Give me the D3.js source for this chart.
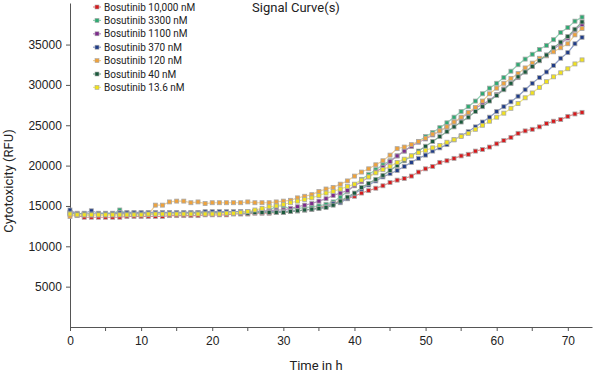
<!DOCTYPE html>
<html>
<head>
<meta charset="utf-8">
<script src="https://cdn.jsdelivr.net/npm/d3@7"></script>
<style>
  body { margin: 0; background: #fff; }
  svg { font-family: Roboto, "Liberation Sans", sans-serif; }
</style>
</head>
<body>
<svg id="chart" width="600" height="374"></svg>
<script>
// hours 0..72, values in RFU (thousands)
const hours = d3.range(0, 73)

const conc10000 = [14.0,13.8,13.6,13.6,13.6,13.6,13.6,13.6,13.7,13.7,13.7,13.7,13.7,13.7,13.8,13.8,13.8,13.8,13.8,13.9,13.9,13.9,13.9,14.0,14.0,14.0,14.1,14.1,14.1,14.2,14.2,14.3,14.4,14.5,14.6,14.8,15.0,15.3,15.6,15.9,16.2,16.6,16.9,17.2,17.5,17.9,18.2,18.4,18.7,19.2,19.6,19.9,20.4,20.6,20.9,21.2,21.4,21.8,22.0,22.3,22.7,23.1,23.5,24.0,24.3,24.5,24.8,25.2,25.5,25.7,26.1,26.4,26.6]
const conc3300 = [14.2,13.9,13.9,13.9,13.9,13.9,14.0,14.5,14.0,14.0,14.0,14.0,14.0,14.0,14.1,14.1,14.1,14.1,14.1,14.1,14.1,14.2,14.2,14.2,14.2,14.3,14.3,14.3,14.4,15.0,15.0,14.6,14.7,14.8,14.9,15.0,15.2,15.5,16.1,16.8,17.6,18.3,18.9,19.5,20.1,20.6,21.2,21.8,22.4,23.0,23.6,24.1,24.7,25.3,26.0,26.7,27.3,28.0,28.9,29.6,30.2,30.9,31.7,32.5,33.2,33.8,34.4,34.9,35.6,36.5,37.1,37.9,38.4]
const conc1100 = [14.2,14.1,14.0,14.0,14.0,14.0,14.0,14.1,14.1,14.1,14.1,14.1,14.1,14.1,14.1,14.1,14.1,14.1,14.2,14.2,14.2,14.2,14.2,14.2,14.3,14.3,14.3,14.4,14.4,14.5,14.5,14.7,14.9,15.1,15.3,15.6,15.9,16.3,16.6,16.9,17.5,18.0,18.6,19.2,19.8,20.5,21.2,21.8,22.4,22.9,23.3,23.8,24.3,24.8,25.4,25.9,26.5,27.1,27.6,28.1,28.8,29.5,30.2,30.9,31.6,32.3,33.0,33.7,34.4,35.1,35.8,36.8,37.5]
const conc370 = [14.5,14.0,14.1,14.4,14.1,14.1,14.1,14.2,14.2,14.2,14.2,14.2,14.2,14.2,14.2,14.2,14.2,14.2,14.2,14.3,14.3,14.3,14.3,14.3,14.3,14.3,14.3,14.3,14.3,14.3,14.3,14.4,14.4,14.5,14.6,14.7,14.9,15.3,15.4,15.9,16.5,17.1,17.6,18.1,18.6,19.0,19.4,19.9,20.4,20.9,21.3,21.8,22.2,22.6,23.2,23.7,24.2,24.8,25.4,26.0,26.7,27.3,27.9,28.6,29.4,30.2,30.9,31.6,32.4,33.3,34.0,35.1,35.9]
const conc120 = [13.7,13.9,13.9,13.9,13.9,13.9,13.9,13.9,13.9,13.9,13.9,13.9,15.1,15.1,15.5,15.6,15.6,15.4,15.5,15.3,15.4,15.4,15.4,15.4,15.4,15.5,15.4,15.4,15.4,15.5,15.6,15.7,16.0,16.2,16.4,16.8,17.1,17.3,17.7,18.1,18.7,19.2,19.6,20.1,20.6,21.3,22.1,22.3,22.6,23.0,23.4,23.9,24.3,24.8,25.4,26.0,26.6,27.2,28.0,28.9,29.6,30.2,30.8,31.4,32.1,32.7,33.3,33.6,34.1,34.6,35.1,36.2,37.0]
const conc40 = [14.1,14.0,14.0,14.0,14.0,14.0,14.0,14.0,14.0,14.0,14.0,14.0,14.0,14.0,14.0,14.0,14.0,14.1,14.1,14.1,14.1,14.1,14.1,14.1,14.1,14.1,14.2,14.2,14.2,14.2,14.2,14.3,14.4,14.5,14.6,14.7,14.8,15.1,15.6,16.1,16.6,17.3,17.8,18.3,18.8,19.4,20.0,20.6,21.2,21.8,22.4,23.0,23.6,24.2,24.8,25.4,26.0,26.7,27.3,28.0,28.7,29.4,30.2,31.0,31.6,32.3,33.0,33.7,34.6,35.3,36.0,36.9,37.8]
const conc13_6 = [14.0,13.9,13.9,13.9,13.9,13.9,13.9,13.9,13.9,13.9,13.9,14.0,14.0,14.0,14.0,14.0,14.0,14.0,14.0,14.0,14.0,14.0,14.1,14.1,14.2,14.3,14.5,14.7,14.9,15.0,15.2,15.4,15.6,15.8,16.0,16.3,16.6,16.8,17.1,17.4,17.7,18.2,18.6,19.1,19.5,19.9,20.4,20.8,21.2,21.6,21.9,22.2,22.5,22.9,23.2,23.6,24.0,24.5,25.0,25.5,26.0,26.5,27.1,27.7,28.4,29.0,29.7,30.4,31.0,31.5,32.0,32.6,33.1]

const seriesNames = ["Bosutinib 10,000 nM", "Bosutinib 3300 nM", "Bosutinib 1100 nM", "Bosutinib 370 nM", "Bosutinib 120 nM", "Bosutinib 40 nM", "Bosutinib 13.6 nM"]
const seriesValues = [conc10000, conc3300, conc1100, conc370, conc120, conc40, conc13_6]
const markerColors = ["#d7191c", "#2eaa72", "#7d2a8c", "#1f3c88", "#f0a23a", "#1a5a3c", "#f2e21b"]
const lineColors = ["#e88a8a", "#8fd4b4", "#b98bc4", "#8a9bc8", "#f5cf8f", "#7fae95", "#f2ea80"]

const yTicks = [5000, 10000, 15000, 20000, 25000, 30000, 35000]
const xTicks = [0, 10, 20, 30, 40, 50, 60, 70]
const xMinorTicks = [5, 15, 25, 35, 45, 55, 65]

const title = "Signal Curve(s)"
const xLabel = "Time in h"
const yLabel = "Cytotoxicity (RFU)"

const svg = d3.select("#chart")

const x = d3.scaleLinear().domain([0, 73.4]).range([70, 592])
const y = d3.scaleLinear().domain([0, 40150]).range([327, 3])

// axes
const xAxis = svg.append("g")
    .attr("transform", "translate(0,327)")
    .call(d3.axisBottom(x).tickValues(xTicks).tickSize(4).tickSizeOuter(0).tickFormat(d3.format("d")))
xAxis.append("g")
    .selectAll("line")
    .data(xMinorTicks)
    .enter()
    .append("line")
    .attr("x1", d => x(d)).attr("x2", d => x(d))
    .attr("y1", 0).attr("y2", 4)

const yAxis = svg.append("g")
    .attr("transform", "translate(70,0)")
    .call(d3.axisLeft(y).tickValues(yTicks).tickSize(4).tickSizeOuter(0).tickFormat(d3.format("d")))

svg.selectAll(".domain, .tick line").attr("stroke", "#555")
xAxis.selectAll("line").attr("stroke", "#555")
svg.selectAll(".tick text").attr("font-size", 12).attr("fill", "#222")
xAxis.selectAll(".tick text").attr("dy", "0.9em")
yAxis.selectAll(".tick text").attr("dx", "-0.1em")

// lines + markers
const line = d3.line()
    .x((d, i) => x(hours[i]))
    .y(d => y(d * 1000))

seriesValues.forEach((vals, si) => {
    svg.append("path")
        .datum(vals)
        .attr("d", line)
        .attr("fill", "none")
        .attr("stroke", lineColors[si])
        .attr("stroke-width", 1.2)
})
seriesValues.forEach((vals, si) => {
    svg.append("g")
        .selectAll("rect")
        .data(vals)
        .enter()
        .append("rect")
        .attr("x", (d, i) => x(hours[i]) - 2)
        .attr("y", d => y(d * 1000) - 2)
        .attr("width", 4)
        .attr("height", 4)
        .attr("fill", markerColors[si])
        .attr("stroke", "#a8a8a8")
        .attr("stroke-width", 0.8)
})

// legend
const legend = svg.append("g").attr("transform", "translate(97,7)")
seriesNames.forEach((name, i) => {
    const row = legend.append("g").attr("transform", "translate(0," + (i * 13.4) + ")")
    row.append("line")
        .attr("x1", -4).attr("x2", 4)
        .attr("stroke", lineColors[i]).attr("stroke-width", 1.2)
    row.append("rect")
        .attr("x", -2).attr("y", -2).attr("width", 4).attr("height", 4)
        .attr("fill", markerColors[i]).attr("stroke", "#a8a8a8").attr("stroke-width", 0.6)
    row.append("text")
        .attr("x", 7).attr("y", 0).attr("dy", "0.35em")
        .attr("font-size", 10).attr("fill", "#222")
        .text(name)
})

svg.append("text")
    .attr("x", 296).attr("y", 12)
    .attr("text-anchor", "middle")
    .attr("font-size", 13).attr("fill", "#222")
    .text(title)

svg.append("text")
    .attr("x", 316).attr("y", 370)
    .attr("text-anchor", "middle")
    .attr("font-size", 13).attr("fill", "#222")
    .text(xLabel)

svg.append("text")
    .attr("transform", "translate(13,181) rotate(-90)")
    .attr("text-anchor", "middle")
    .attr("font-size", 13).attr("fill", "#222")
    .text(yLabel)
</script>
</body>
</html>
